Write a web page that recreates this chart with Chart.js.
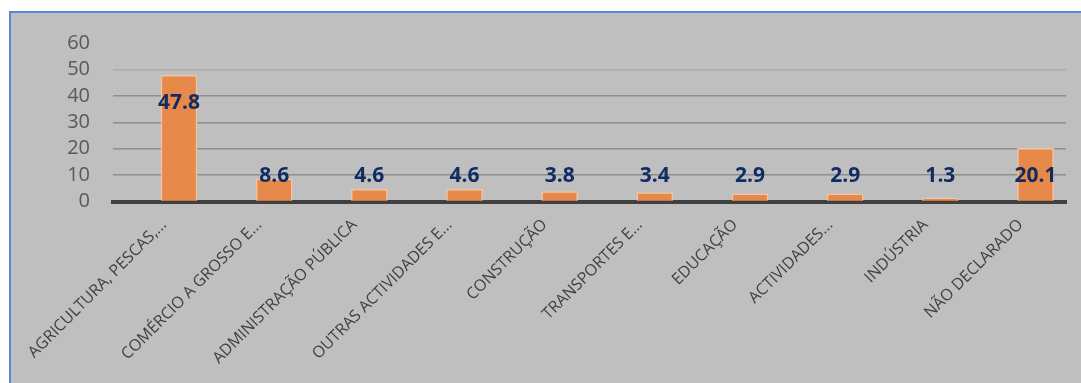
<!DOCTYPE html>
<html><head><meta charset="utf-8">
<script src="https://cdn.jsdelivr.net/npm/chart.js@4"></script>
<style>
html,body{margin:0;padding:0;background:#fff;width:1081px;height:383px;overflow:hidden;}
#frame{position:absolute;left:9px;top:11px;width:1090px;height:400px;background:#BFBFBF;border-left:2px solid #5B87D8;border-top:2px solid #5B87D8;}
#wrap{position:absolute;left:0;top:0;width:1081px;height:383px;}
</style></head><body>
<div id="frame"></div>
<div id="wrap"><canvas id="c" width="1081" height="383"></canvas></div>
<script>
const categories = [
  'AGRICULTURA, PESCAS,...',
  'COMÉRCIO A GROSSO E...',
  'ADMINISTRAÇÃO PÚBLICA',
  'OUTRAS ACTIVIDADES E...',
  'CONSTRUÇÃO',
  'TRANSPORTES E...',
  'EDUCAÇÃO',
  'ACTIVIDADES...',
  'INDÚSTRIA',
  'NÃO DECLARADO'
];
const values = [47.8, 8.6, 4.6, 4.6, 3.8, 3.4, 2.9, 2.9, 1.3, 20.1];
const yTicks = [0, 10, 20, 30, 40, 50, 60];

const valueLabels = {
  id: 'valueLabels',
  afterDatasetsDraw(chart) {
    const ctx = chart.ctx;
    const meta = chart.getDatasetMeta(0);
    ctx.save();
    ctx.font = 'bold 21px "Open Sans"';
    ctx.fillStyle = '#112B63';
    ctx.textAlign = 'center';
    ctx.textBaseline = 'middle';
    meta.data.forEach((el, i) => {
      const y = Math.min(el.y + 27.5, el.base - 24.5);
      ctx.fillText(values[i].toFixed(1), el.x, y);
    });
    ctx.restore();
  }
};

new Chart(document.getElementById('c'), {
  type: 'bar',
  data: {
    datasets: [{
      data: values.map((v, i) => ({ x: i, y: v })),
      backgroundColor: '#E6894B',
      borderColor: '#F3C4A0',
      borderWidth: 1.5,
      barThickness: 36
    }]
  },
  options: {
    responsive: false,
    animation: false,
    devicePixelRatio: 1,
    layout: { padding: { top: 43, right: 15, bottom: 0, left: 0 } },
    plugins: { legend: { display: false }, tooltip: { enabled: false } },
    scales: {
      x: {
        type: 'linear',
        offset: false,
        min: -0.6935,
        max: 9.32,
        afterBuildTicks: (s) => { s.ticks = categories.map((_, i) => ({ value: i })); },
        afterFit: (s) => { s.height = 181.5; s.paddingLeft = 0; s.paddingRight = 0; },
        ticks: {
          autoSkip: false,
          minRotation: 45,
          maxRotation: 45,
          labelOffset: -15,
          padding: 6,
          callback: (v) => categories[v],
          font: { family: '"Open Sans"', size: 16 },
          color: '#404040'
        },
        grid: { display: false, offset: false },
        border: { display: true, color: '#404040', width: 4 }
      },
      y: {
        min: 0,
        max: 60,
        afterBuildTicks: (s) => { s.ticks = yTicks.map(v => ({ value: v })); },
        afterFit: (s) => { s.width = 113; },
        ticks: {
          autoSkip: false,
          font: { family: '"Open Sans"', size: 20 },
          color: '#595959',
          padding: 23
        },
        grid: {
          drawTicks: false,
          lineWidth: 1.5,
          color: (c) => {
            const v = c.tick ? c.tick.value : null;
            if (v === 0 || v === 60) return 'rgba(0,0,0,0)';
            if (v === 50) return '#ABABAB';
            return '#8E8E8E';
          }
        },
        border: { display: false }
      }
    }
  },
  plugins: [valueLabels]
});
</script>
</body></html>
